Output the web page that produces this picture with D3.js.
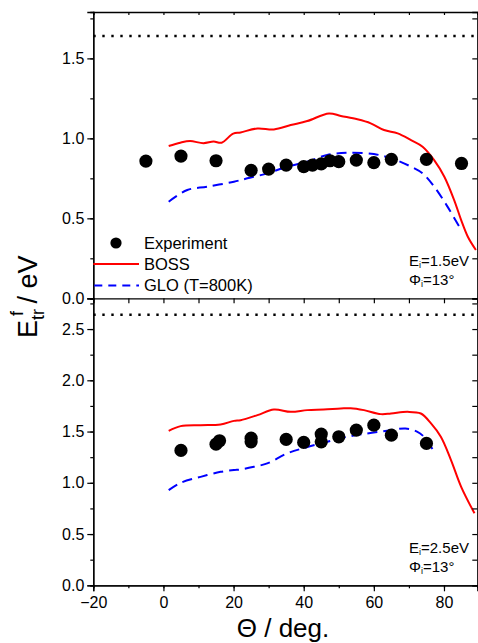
<!DOCTYPE html>
<html><head><meta charset="utf-8">
<script src="https://cdn.jsdelivr.net/npm/d3@7"></script>
<style>
body{margin:0;background:#fff;}
text{font-family:"Liberation Sans",Arial,sans-serif;fill:#000;}
</style></head>
<body><svg id="c" width="478" height="643"></svg>
<script>
// ---- data ----
const expTopTheta = [-5, 5, 15, 25, 30, 35, 40, 42.5, 45, 47.5, 50, 55, 60, 65, 75, 85];
const expTopE     = [0.858, 0.889, 0.86, 0.80, 0.808, 0.833, 0.823, 0.833, 0.84, 0.86, 0.854, 0.864, 0.848, 0.869, 0.869, 0.843];
const bossTopTheta = [1.5, 4.8, 7.6, 11.4, 14.3, 16.6, 19.9, 22, 26.8, 31.5, 36.3, 41, 47.2, 50.6, 55.3, 59.1, 62.9, 66.8, 70.6, 73.9, 77.2, 80.1, 82.9, 84.9, 86.8, 89.1];
const bossTopE     = [0.952, 0.973, 0.983, 0.97, 0.98, 0.973, 1.03, 1.037, 1.062, 1.056, 1.083, 1.108, 1.156, 1.14, 1.119, 1.094, 1.052, 1.031, 0.989, 0.948, 0.864, 0.76, 0.614, 0.489, 0.385, 0.302];
const gloTopTheta = [1.5, 6.8, 12.5, 20.1, 23.9, 29.6, 35.3, 41, 46.7, 52.4, 60, 65.7, 70.6, 73.9, 77.2, 81, 84.9];
const gloTopE     = [0.604, 0.677, 0.698, 0.729, 0.75, 0.781, 0.823, 0.854, 0.896, 0.91, 0.902, 0.869, 0.823, 0.781, 0.698, 0.573, 0.427];

const expBotTheta = [5, 15, 16, 25, 25, 35, 40, 45, 45, 50, 55, 60, 65, 75];
const expBotE     = [1.316, 1.377, 1.41, 1.435, 1.40, 1.423, 1.394, 1.475, 1.40, 1.449, 1.514, 1.562, 1.465, 1.384];
const bossBotTheta = [1.5, 4.9, 10.6, 16.3, 20.1, 22, 26.8, 31.5, 36.3, 41, 45.7, 50.6, 53.4, 57.2, 62, 64.9, 69.6, 73.4, 76.3, 79.1, 82, 84.9, 88.7];
const bossBotE     = [1.507, 1.553, 1.562, 1.569, 1.604, 1.611, 1.66, 1.715, 1.692, 1.709, 1.715, 1.725, 1.728, 1.709, 1.67, 1.676, 1.692, 1.676, 1.579, 1.449, 1.222, 0.961, 0.702];
const gloBotTheta = [1.5, 4.9, 10.6, 16.3, 20.1, 22, 25.8, 29.6, 35.3, 40.6, 46.7, 52.4, 58.1, 63.8, 69, 72.3, 74.3, 76.9];
const gloBotE     = [0.929, 1.0, 1.058, 1.107, 1.124, 1.13, 1.156, 1.189, 1.287, 1.345, 1.4, 1.449, 1.481, 1.507, 1.53, 1.5, 1.449, 1.319];

const refTop = 1.64, refBot = 2.64;
const xTicksMajor = [-20, 0, 20, 40, 60, 80];
const xTicksMinor = [-20, -10, 0, 10, 20, 30, 40, 50, 60, 70, 80];
const yTopLabels = [0, 0.5, 1.0, 1.5];
const yTopMinor = [0, 0.25, 0.5, 0.75, 1.0, 1.25, 1.5, 1.75];
const yBotLabels = [0, 0.5, 1.0, 1.5, 2.0, 2.5];
const yBotMinor = [0, 0.25, 0.5, 0.75, 1.0, 1.25, 1.5, 1.75, 2.0, 2.25, 2.5, 2.75];
const legendNames = ["Experiment", "BOSS", "GLO (T=800K)"];

// ---- layout ----
const svg = d3.select("#c");
svg.append("rect").attr("width",478).attr("height",643).attr("fill","#fff");
const L = 93.3, R = 477.3;
const x = d3.scaleLinear().domain([-20, 89.5]).range([L, R]);
const yT = d3.scaleLinear().domain([0, 1.79]).range([298.3, 12]);
const yB = d3.scaleLinear().domain([0, 2.8]).range([585.3, 298.3]);

svg.append("clipPath").attr("id","clipT").append("rect").attr("x",L).attr("y",12).attr("width",R-L).attr("height",298.3-12);
svg.append("clipPath").attr("id","clipB").append("rect").attr("x",L).attr("y",298.3).attr("width",R-L).attr("height",585.3-298.3);

const red = "#ff0000", blue = "#0000ff";

function panel(y, clip, expT, expE, bT, bE, gT, gE, ref, labels, minor, top, showXLabels, ann) {
  const g = svg.append("g");
  const toPts = (a, b) => a.map((v,i)=>[v, b[i]]);
  const line = d3.line().x(d=>x(d[0])).y(d=>y(d[1])).curve(d3.curveCatmullRom.alpha(0.5));
  const pg = g.append("g").attr("clip-path", `url(#${clip})`);
  pg.append("line").attr("x1",L).attr("x2",R).attr("y1",y(ref)).attr("y2",y(ref))
    .attr("stroke","#000").attr("stroke-width",2.4).attr("stroke-dasharray","2.4,6.6");
  pg.append("path").datum(toPts(bT,bE)).attr("d",line).attr("fill","none").attr("stroke",red).attr("stroke-width",2);
  pg.append("path").datum(toPts(gT,gE)).attr("d",line).attr("fill","none").attr("stroke",blue).attr("stroke-width",2).attr("stroke-dasharray","10,6");
  pg.selectAll("circle").data(toPts(expT,expE)).join("circle")
    .attr("cx",d=>x(d[0])).attr("cy",d=>y(d[1])).attr("r",6.6).attr("fill","#000");

  g.append("g").attr("transform",`translate(${L},0)`)
    .call(d3.axisLeft(y).tickValues(labels).tickSize(6).tickPadding(3).tickFormat(d3.format(".1f")));
  g.append("g").attr("transform",`translate(${L},0)`)
    .call(d3.axisLeft(y).tickValues(minor).tickSize(3).tickFormat(""));
  g.append("g").attr("transform",`translate(${R},0)`)
    .call(d3.axisLeft(y).tickValues(minor).tickSize(5).tickFormat(""));
  if (top) {
    g.append("g").attr("transform",`translate(0,${y.range()[1]})`)
      .call(d3.axisBottom(x).tickValues(xTicksMinor).tickSize(3).tickFormat(""));
  }
  g.append("g").attr("transform",`translate(0,${y.range()[0]})`)
    .call(d3.axisBottom(x).tickValues(xTicksMinor).tickSize(showXLabels?3:5).tickFormat(""));
  if (showXLabels) {
    g.append("g").attr("transform",`translate(0,${y.range()[0]})`)
      .call(d3.axisBottom(x).tickValues(xTicksMajor).tickSize(6).tickPadding(5).tickFormat(d3.format("d")));
  }
  g.selectAll(".domain").attr("stroke","#000").attr("stroke-width",1.3);
  g.selectAll(".tick line").attr("stroke","#000").attr("stroke-width",1.2);
  g.selectAll(".tick text").attr("font-size",16).style("font-family","'Liberation Sans',Arial,sans-serif");
  const yb = y.range()[0];
  const t1 = g.append("text").attr("x",409).attr("y",yb-32).attr("font-size",15);
  t1.append("tspan").text("E");
  t1.append("tspan").attr("font-size",9).attr("dy",2).text("i");
  t1.append("tspan").attr("dy",-2).text("=" + ann + "eV");
  const t2 = g.append("text").attr("x",409).attr("y",yb-13).attr("font-size",15);
  t2.append("tspan").text("Φ");
  t2.append("tspan").attr("font-size",9).attr("dy",2).text("i");
  t2.append("tspan").attr("dy",-2).text("=13°");
}

panel(yT, "clipT", expTopTheta, expTopE, bossTopTheta, bossTopE, gloTopTheta, gloTopE, refTop, yTopLabels, yTopMinor, true, false, "1.5");
panel(yB, "clipB", expBotTheta, expBotE, bossBotTheta, bossBotE, gloBotTheta, gloBotE, refBot, yBotLabels, yBotMinor, false, true, "2.5");

// legend
const lg = svg.append("g");
lg.append("circle").attr("cx",116).attr("cy",243).attr("r",5.6).attr("fill","#000");
lg.append("line").attr("x1",L).attr("x2",139).attr("y1",264).attr("y2",264).attr("stroke",red).attr("stroke-width",2);
lg.append("line").attr("x1",L+1).attr("x2",139).attr("y1",285.5).attr("y2",285.5).attr("stroke",blue).attr("stroke-width",2).attr("stroke-dasharray","8,6");
const ly = [248.5, 269.5, 291];
legendNames.forEach((n,i)=>{
  lg.append("text").attr("x",144).attr("y",ly[i]).attr("font-size",16.5).text(n);
});

// axis titles
const yt = svg.append("text").attr("transform","translate(37,338) rotate(-90)").attr("font-size",27);
yt.append("tspan").text("E");
yt.append("tspan").attr("font-size",18).attr("dy",7).text("tr");
yt.append("tspan").attr("font-size",18).attr("dx",-7).attr("dy",-21).text("f");
yt.append("tspan").attr("dy",14).text(" / eV");

svg.append("text").attr("x",283).attr("y",637).attr("text-anchor","middle").attr("font-size",26).text("Θ / deg.");
</script></body></html>
